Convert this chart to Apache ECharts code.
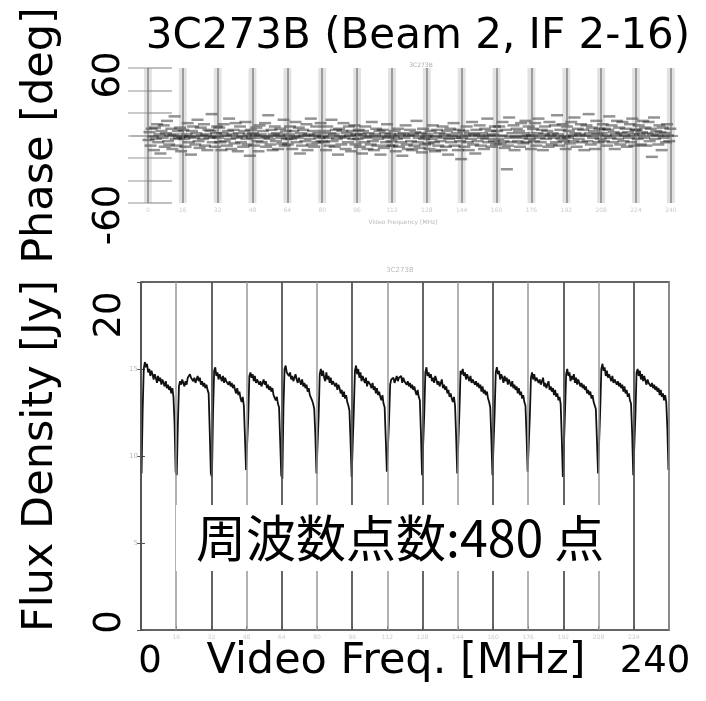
<!DOCTYPE html>
<html><head><meta charset="utf-8">
<script src="https://cdn.jsdelivr.net/npm/echarts@6/dist/echarts.min.js"></script>
<style>html,body{margin:0;padding:0;background:#fff}#c{width:706px;height:701px}</style>
</head><body><div id="c"></div>
<script>
const titleText = '3C273B (Beam 2, IF 2-16)';
const noteText = '周波数点数:480 点';
const ifEdges = [0,16,32,48,64,80,96,112,128,144,160,176,192,208,224,240];
const chanWidth = 0.5; // MHz per channel, 32 channels per IF
const phaseBigTicks = [-60, 60];
const fluxBigTicks = [0, 20];
const freqBigTicks = [0, 240];

const phaseRows = [
 [-4,3,-9,6,-1,-13,7,-3,10,-6,1,-16,4,-2,9,-10,2,13,-5,-8,0,6,-12,1,17,-3,-9,4,-2,7,-14,-1],
 [5,-3,-10,1,11,-6,-1,-17,4,8,-2,-8,2,14,-5,-11,7,0,-3,10,-9,1,-13,5,-2,4,19,-6,-1,-10,2,8],
 [-2,7,-6,-13,2,10,-5,0,-9,4,15,-3,-12,1,5,-7,11,-2,-14,2,8,-6,-1,-10,4,12,-3,-8,1,-18,5,-2],
 [2,-9,0,7,-5,-14,9,1,-6,4,-2,11,-10,-1,18,-3,-8,5,-13,1,8,-5,2,-12,0,6,-2,-7,14,-9,4,-3],
 [-8,1,8,-3,-12,4,-1,12,-6,-2,7,-16,2,-9,5,0,-5,10,-13,1,-3,15,-8,4,-10,0,8,-6,2,-2,11,-5],
 [-1,-6,4,-13,8,-2,-9,2,14,-5,1,-10,5,-3,-17,6,-1,-8,4,11,-2,-12,2,-6,8,0,-14,4,-3,9,-8,1],
 [-3,5,-10,1,-16,4,-6,8,-2,-12,2,-1,-8,12,-5,-13,1,6,-9,-3,4,-17,-1,5,-11,2,-6,10,-2,-9,1,-5],
 [-9,-1,4,-14,-3,6,-10,1,-6,-18,2,-2,9,-8,-12,0,5,-5,-13,1,-9,3,13,-6,-2,-11,2,-15,6,-3,-8,-1],
 [1,-7,-12,4,-3,9,-6,-14,-1,5,-9,2,-5,-13,8,-2,1,-10,4,-17,-3,6,-6,0,11,-9,-2,2,-13,5,-5,-21],
 [-2,4,-10,0,8,-6,-13,2,-3,12,-8,1,-16,5,-5,0,9,-9,2,-2,-12,6,-3,15,-6,0,4,-10,1,-5,8,-8],
 [4,-3,8,-7,0,12,-5,-11,5,-30,-9,16,-2,-6,2,9,-13,-1,6,-5,4,-10,11,-2,-7,2,13,-6,0,8,-3,-12],
 [0,6,-5,11,-9,2,15,-2,-6,5,-13,1,8,-3,4,-10,12,0,-8,2,-2,9,-6,18,1,-9,5,-3,10,-5,-1,-12],
 [8,-2,4,-7,12,0,-5,16,2,-10,6,-3,1,10,-6,5,-13,0,9,-5,19,2,-8,7,-2,4,-12,13,1,-6,6,-3],
 [2,10,-5,6,0,-9,5,17,-2,9,-6,3,-12,1,13,-3,7,-8,2,12,-5,0,6,-10,3,-2,10,-6,15,1,-9,5],
 [5,-3,9,1,-8,3,13,-2,7,-9,2,12,-5,6,-19,1,16,-3,4,0,-8,9,3,-13,7,-2,2,-6,10,0,-5,6]
];

const fluxRows = [
 [9.0,12.6,15.0,15.4,15.1,15.3,14.8,15.0,14.6,14.9,14.7,14.4,14.7,14.5,14.2,14.6,14.3,14.5,14.1,14.4,14.2,14.0,14.3,13.9,14.1,13.8,14.0,13.6,13.9,13.4,11.9,9.1],
 [8.9,11.8,14.0,14.3,14.1,14.4,14.2,14.0,14.3,14.1,14.5,14.4,14.7,14.5,14.6,14.3,14.5,14.2,14.4,14.6,14.3,14.5,14.1,14.3,14.0,14.2,13.9,14.1,13.8,13.6,11.4,9.0],
 [8.8,12.5,14.9,15.1,14.6,14.8,14.4,14.7,14.5,14.3,14.6,14.2,14.5,14.3,14.4,14.1,14.3,14.0,14.2,13.9,14.1,13.8,13.6,13.9,13.5,13.7,13.3,13.1,13.4,12.9,11.1,9.2],
 [9.1,12.2,14.6,14.8,14.5,14.7,14.3,14.6,14.2,14.4,14.5,14.1,14.3,14.0,14.2,14.4,14.1,14.3,13.9,14.1,13.8,14.0,13.7,13.9,13.5,13.6,13.2,13.4,13.0,12.8,10.9,8.9],
 [8.7,12.8,15.0,15.2,14.8,14.9,14.6,14.8,14.4,14.6,14.3,14.5,14.7,14.4,14.2,14.5,14.3,14.1,14.4,14.0,14.2,13.9,14.1,13.7,13.9,13.5,13.6,13.2,13.0,12.7,11.2,9.0],
 [9.0,12.3,14.7,15.0,14.6,14.9,14.5,14.3,14.8,14.4,14.6,14.2,14.5,14.1,14.3,14.4,14.0,14.2,13.8,14.1,13.9,13.6,13.8,13.4,13.7,13.3,13.5,13.1,12.9,12.6,10.8,8.8],
 [8.9,12.7,14.9,15.2,14.7,15.0,14.5,14.8,14.3,14.6,14.7,14.2,14.5,14.0,14.3,14.4,14.1,13.9,14.2,13.8,14.0,13.6,13.9,13.5,13.7,13.4,13.2,13.5,13.0,12.8,11.0,9.1],
 [9.2,12.0,14.1,14.4,14.3,14.5,14.2,14.4,14.6,14.3,14.5,14.4,14.6,14.2,14.5,14.3,14.4,14.1,14.3,14.0,14.2,13.9,14.1,13.8,14.0,13.7,13.5,13.8,13.4,13.2,11.3,8.9],
 [8.8,12.4,14.8,15.1,14.6,14.8,14.5,14.7,14.3,14.5,14.2,14.6,14.4,14.1,14.3,14.0,14.2,14.4,13.9,14.1,13.8,14.0,13.6,13.8,13.4,13.6,13.3,13.1,13.4,12.9,11.1,9.0],
 [9.1,12.6,14.9,14.7,15.0,14.6,14.8,14.4,14.7,14.5,14.3,14.6,14.2,14.4,14.5,14.1,14.3,14.0,14.2,13.9,14.1,13.7,14.0,13.6,13.8,13.5,13.7,13.3,13.1,12.8,11.0,8.9],
 [8.9,12.5,14.8,15.1,14.7,14.9,14.4,14.7,14.5,14.2,14.6,14.3,14.5,14.1,14.4,14.2,14.0,14.3,13.9,14.1,13.8,14.0,13.6,13.9,13.5,13.7,13.3,13.5,13.1,12.9,11.2,9.1],
 [9.0,12.3,14.5,14.8,14.4,14.7,14.3,14.5,14.6,14.2,14.4,14.1,14.3,14.5,14.0,14.2,13.9,14.1,14.3,13.8,14.0,13.7,13.9,13.5,13.8,13.4,13.6,13.2,13.4,13.0,11.1,8.8],
 [8.8,12.6,14.7,15.0,14.6,14.8,14.3,14.6,14.4,14.7,14.2,14.5,14.1,14.4,14.3,14.0,14.2,13.9,14.1,13.8,14.0,13.6,13.8,13.5,13.7,13.3,13.5,13.1,12.9,12.7,10.9,9.0],
 [9.1,12.7,15.0,15.3,14.9,15.1,14.6,14.9,14.5,14.7,14.8,14.3,14.6,14.2,14.4,14.5,14.1,14.3,14.0,14.2,13.9,14.1,13.7,14.0,13.6,13.8,13.4,13.6,13.2,13.0,11.3,8.9],
 [8.9,12.4,14.8,15.0,14.6,14.9,14.4,14.7,14.3,14.6,14.5,14.1,14.4,14.2,14.3,14.0,14.2,13.9,14.1,13.8,14.0,13.7,13.9,13.5,13.8,13.4,13.6,13.2,13.5,13.1,11.6,9.2]
];

// build [freq, value] pairs
const phaseData = [], fluxData = [];
phaseRows.flat().forEach((v, i) => phaseData.push([(i + 0.5) * chanWidth, v]));
fluxRows.flat().forEach((v, i) => fluxData.push([(i + 0.5) * chanWidth, v]));

const FONT = 'DejaVu Sans';
const big = 37;
const nameSize = 43;

const chart = echarts.init(document.getElementById('c'), null, {renderer: 'canvas'});
chart.setOption({
  animation: false,
  backgroundColor: '#fff',
  title: [
    {text: titleText, left: 413, top: 11, textAlign: 'center',
     textStyle: {fontFamily: FONT, fontSize: 42, fontWeight: 'normal', color: '#000'}},
    {text: '3C273B', left: 416, top: 57, textAlign: 'center',
     textStyle: {fontFamily: FONT, fontSize: 6, fontWeight: 'normal', color: '#aaa'}},
    {text: 'Video Frequency [MHz]', left: 398, top: 214, textAlign: 'center',
     textStyle: {fontFamily: FONT, fontSize: 6, fontWeight: 'normal', color: '#bbb'}},
    {text: '3C273B', left: 395, top: 262, textAlign: 'center',
     textStyle: {fontFamily: FONT, fontSize: 7, fontWeight: 'normal', color: '#bbb'}},
    {text: noteText, left: 176, top: 505, backgroundColor: '#fff', padding: [8, 4, 8, 20],
     textStyle: {fontFamily: 'Noto Sans CJK JP', fontSize: 50, fontWeight: 'normal', color: '#000'}}
  ],
  grid: [
    {left: 132, right: 29, top: 68, height: 135, show: false, outerBoundsMode: 'none', containLabel: false},
    {left: 141, right: 37, top: 282, height: 348, show: true, borderColor: '#333', borderWidth: 1.5,
     backgroundColor: 'transparent', outerBoundsMode: 'none', containLabel: false}
  ],
  xAxis: [
    {gridIndex: 0, type: 'value', min: -7.3, max: 242.8, position: 'bottom',
     axisLine: {show: true, lineStyle: {color: '#999', width: 2}}, axisTick: {show: false}, splitLine: {show: false},
     axisLabel: {customValues: ifEdges, fontSize: 6, color: '#ccc', margin: 4, fontFamily: FONT}},
    {gridIndex: 0, type: 'value', min: -7.3, max: 242.8, position: 'top',
     axisLine: {show: true, lineStyle: {color: '#999', width: 2}}, axisTick: {show: false}, splitLine: {show: false},
     axisLabel: {show: false}},
    {gridIndex: 1, type: 'value', min: 0, max: 240, position: 'bottom',
     axisLine: {show: false}, splitLine: {show: false},
     axisTick: {show: true, inside: true, length: 4, customValues: ifEdges, lineStyle: {color: '#555'}},
     axisLabel: {customValues: freqBigTicks, margin: 14, fontFamily: FONT, color: '#000',
       formatter: v => v === freqBigTicks[0] ? '{l|' + v + '}' : '{r|' + v + '}',
       rich: {l: {fontSize: big, fontFamily: FONT, padding: [0, 0, 0, 18]},
              r: {fontSize: big, fontFamily: FONT, padding: [0, 28, 0, 0]}}},
     name: 'Video Freq. [MHz]', nameLocation: 'middle', nameGap: 10, nameMoveOverlap: false,
     nameTextStyle: {fontFamily: FONT, fontSize: nameSize, color: '#000', verticalAlign: 'top', padding: [0, 18, 0, 0]}},
    {gridIndex: 1, type: 'value', min: 0, max: 240, position: 'bottom',
     axisLine: {show: false}, axisTick: {show: false}, splitLine: {show: false},
     axisLabel: {customValues: ifEdges.slice(1, -1), fontSize: 6, color: '#ccc', margin: 4, fontFamily: FONT}}
  ],
  yAxis: [
    {gridIndex: 0, type: 'value', min: -60, max: 60, interval: 20, position: 'left',
     axisLine: {show: false}, splitLine: {show: false},
     axisTick: {show: true, inside: true, length: 24, lineStyle: {color: '#aaa', width: 1.5}},
     axisLabel: {rotate: 90, margin: 4, color: '#000',
       formatter: v => v === phaseBigTicks[1] ? '{t|' + v + '}' : (v === phaseBigTicks[0] ? '{b|' + v + '}' : ''),
       rich: {t: {fontSize: big, fontFamily: FONT, padding: [0, 14, 0, 0]},
              b: {fontSize: big, fontFamily: FONT, padding: [0, 24, 0, 0]}}},
     name: 'Phase [deg]', nameLocation: 'middle', nameRotate: 90, nameGap: 70, nameMoveOverlap: false,
     nameTextStyle: {fontFamily: FONT, fontSize: nameSize, color: '#000'}},
    {gridIndex: 0, type: 'value', min: -60, max: 60, interval: 20, position: 'right',
     axisLine: {show: false}, splitLine: {show: false}, axisLabel: {show: false},
     axisTick: {show: true, inside: true, length: 20, lineStyle: {color: '#bbb', width: 1.5}}},
    {gridIndex: 1, type: 'value', min: 0, max: 20, interval: 5, position: 'left',
     axisLine: {show: false}, splitLine: {show: false},
     axisTick: {show: true, inside: true, length: 4, lineStyle: {color: '#555'}},
     axisLabel: {rotate: 90, margin: 12, color: '#000',
       formatter: v => v === fluxBigTicks[1] ? '{t|' + v + '}' : (v === fluxBigTicks[0] ? '{b|' + v + '}' : ''),
       rich: {t: {fontSize: big, fontFamily: FONT, padding: [0, 66, 0, 0]},
              b: {fontSize: big, fontFamily: FONT, padding: [0, 0, 0, 16]}}},
     name: 'Flux Density [Jy]', nameLocation: 'middle', nameRotate: 90, nameGap: 79, nameMoveOverlap: false,
     nameTextStyle: {fontFamily: FONT, fontSize: nameSize, color: '#000'}},
    {gridIndex: 1, type: 'value', min: 0, max: 20, interval: 5, position: 'right',
     axisLine: {show: false}, splitLine: {show: false}, axisLabel: {show: false},
     axisTick: {show: true, inside: true, length: 4, lineStyle: {color: '#555'}}},
    {gridIndex: 1, type: 'value', min: 0, max: 20, interval: 5, position: 'left',
     axisLine: {show: false}, splitLine: {show: false}, axisTick: {show: false},
     axisLabel: {margin: 3, fontSize: 7, color: '#bbb', fontFamily: FONT,
       formatter: v => (v === fluxBigTicks[0] || v === fluxBigTicks[1]) ? '' : String(v)}}
  ],
  series: [
    {type: 'scatter', xAxisIndex: 0, yAxisIndex: 0, data: phaseData, symbol: 'rect', symbolSize: [12, 2.5],
     itemStyle: {color: 'rgba(10,10,10,0.55)'}, silent: true, z: 3,
     markArea: {silent: true, itemStyle: {color: 'rgba(140,140,140,0.25)'},
       data: ifEdges.map(e => [{xAxis: e - 1.8}, {xAxis: e + 1.8}])},
     markLine: {silent: true, symbol: 'none', label: {show: false},
       lineStyle: {type: 'solid', width: 2, color: 'rgba(110,110,110,0.6)'},
       data: ifEdges.map(e => ({xAxis: e}))}},
    {type: 'line', xAxisIndex: 2, yAxisIndex: 2, data: fluxData, showSymbol: false, silent: true,
     lineStyle: {color: '#111', width: 1.8}, z: 3,
     markLine: {silent: true, symbol: 'none', label: {show: false},
       data: ifEdges.map((e, i) => ({xAxis: e, lineStyle: {type: 'solid', width: i % 2 ? 1.5 : 1.8, color: i % 2 ? '#999' : '#555'}}))}}
  ]
});
</script></body></html>
